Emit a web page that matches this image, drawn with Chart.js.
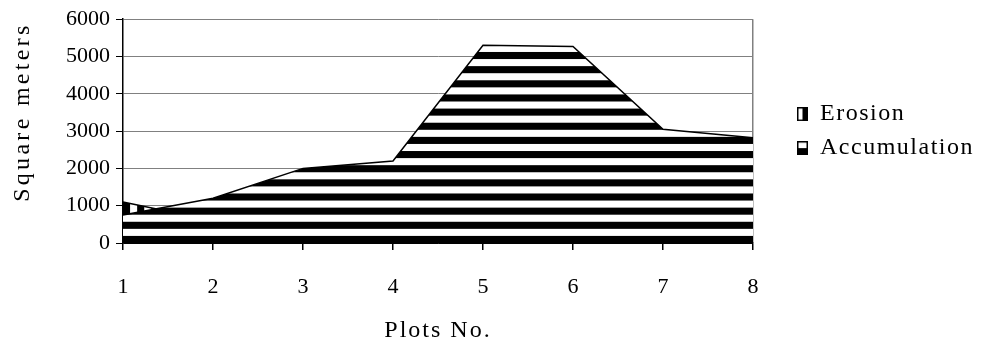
<!DOCTYPE html>
<html>
<head>
<meta charset="utf-8">
<script src="https://cdn.jsdelivr.net/npm/chart.js@4.4.1/dist/chart.umd.min.js"></script>
<style>
  html, body { margin: 0; padding: 0; background: #fff; }
  #wrap { width: 981px; height: 345px; }
</style>
</head>
<body>
<div id="wrap"><canvas id="c"></canvas></div>
<script>
// Plot numbers along the x axis
const plots = ['1', '2', '3', '4', '5', '6', '7', '8'];
// Areas per plot, square meters
const erosion = [1100, 600, 900, 1000, 1600, 1500, 1200, 1000];
const accumulation = [750, 1200, 2000, 2200, 5300, 5270, 3050, 2820];
// Value axis
const yMin = 0;
const yMax = 6000;
const yStep = 1000;
const seriesNames = ['Erosion', 'Accumulation'];
const xTitle = 'Plots No.';
const yTitle = 'Square meters';

const SERIF = '"Liberation Serif", "Times New Roman", serif';
const STRIPE = 14.15;          // stripe period of the hatch fills, px

// Hatch fills, anchored to the plot area so the stripes line up with the axes
const patternCache = {};
function hatch(chart, vertical) {
  const a = chart.chartArea;
  if (!a) return '#000';
  const key = (vertical ? 'v' : 'h') + a.left + ':' + a.bottom + ':' + chart.width + 'x' + chart.height;
  if (patternCache[key]) return patternCache[key];
  const c = document.createElement('canvas');
  c.width = chart.width;
  c.height = chart.height;
  const g = c.getContext('2d');
  g.fillStyle = '#fff';
  g.fillRect(0, 0, c.width, c.height);
  g.fillStyle = '#000';
  if (vertical) {
    for (let x = a.left; x < c.width; x += STRIPE) g.fillRect(x, 0, STRIPE / 2, c.height);
  } else {
    for (let y = a.bottom; y > 0; y -= STRIPE) g.fillRect(0, y - STRIPE / 2, c.width, STRIPE / 2);
  }
  const p = chart.ctx.createPattern(c, 'no-repeat');
  patternCache[key] = p;
  return p;
}

// Small legend swatches: half white, half black, with a black frame
function swatch(vertical) {
  const w = 11, h = 14;
  const c = document.createElement('canvas');
  c.width = w; c.height = h;
  const g = c.getContext('2d');
  g.fillStyle = '#fff';
  g.fillRect(0, 0, w, h);
  g.fillStyle = '#000';
  if (vertical) g.fillRect(w / 2, 0, w / 2, h);
  else g.fillRect(0, h / 2, w, h / 2);
  g.strokeStyle = '#000';
  g.lineWidth = 1.5;
  g.strokeRect(0.75, 0.75, w - 1.5, h - 1.5);
  return c;
}
const swatches = [swatch(true), swatch(false)];

// Plot-area geometry
const AREA_LEFT = 123;
const AREA_RIGHT = 753;
const LEGEND_DX = 34;
const LEGEND_DY = 0;

// Letter spacing for titles and legend text, and fixed box sizes
const layoutTweaks = {
  id: 'layoutTweaks',
  beforeLayout(chart) {
    const lg = chart.legend;
    if (lg && !lg._fixedWidth) {
      const fit = lg.fit.bind(lg);
      lg.fit = function () { fit(); this.width = chart.width - AREA_RIGHT; };
      const draw = lg.draw.bind(lg);
      lg.draw = function () {
        const ctx = this.ctx;
        ctx.save();
        ctx.translate(LEGEND_DX, LEGEND_DY);
        ctx.letterSpacing = '1.5px';
        draw();
        ctx.restore();
      };
      lg._fixedWidth = true;
    }
  },
  beforeDraw(chart) {
    const spacing = { x: '2px', y: '3.3px' };
    const shift = { x: [0, 2], y: [0, -19] };
    for (const id of ['x', 'y']) {
      const s = chart.scales[id];
      if (s && !s._spaced) {
        const dt = s.drawTitle.bind(s);
        s.drawTitle = function () {
          const ctx = this.ctx;
          ctx.save();
          ctx.translate(shift[id][0], shift[id][1]);
          ctx.letterSpacing = spacing[id];
          dt();
          ctx.restore();
        };
        s._spaced = true;
      }
    }
  }
};

new Chart(document.getElementById('c'), {
  type: 'line',
  data: {
    labels: plots,
    datasets: [
      {
        label: seriesNames[0],
        data: erosion,
        order: 2,
        fill: 'origin',
        backgroundColor: (ctx) => hatch(ctx.chart, true),
        borderColor: '#000',
        borderWidth: 1.5,
        pointRadius: 0,
        tension: 0,
        pointStyle: swatches[0]
      },
      {
        label: seriesNames[1],
        data: accumulation,
        order: 1,
        fill: 'origin',
        backgroundColor: (ctx) => hatch(ctx.chart, false),
        borderColor: '#000',
        borderWidth: 1.5,
        pointRadius: 0,
        tension: 0,
        pointStyle: swatches[1]
      }
    ]
  },
  options: {
    responsive: true,
    maintainAspectRatio: false,
    animation: false,
    events: [],
    layout: { padding: { left: 0, right: 0, top: 17, bottom: 0 } },
    scales: {
      x: {
        type: 'category',
        offset: false,
        grid: {
          color: (c) => (c.index === plots.length - 1 ? '#808080' : 'rgba(0,0,0,0)'),
          tickColor: '#000',
          tickLength: 7,
          lineWidth: 1.5
        },
        border: { color: '#000', width: 1.5 },
        ticks: {
          color: '#000',
          font: { family: SERIF, size: 22 },
          padding: 24,
          maxRotation: 0,
          autoSkip: false
        },
        title: {
          display: true,
          text: xTitle,
          color: '#000',
          font: { family: SERIF, size: 24 },
          padding: { top: 4, bottom: 2 }
        },
        afterFit(scale) { scale.height = 345 - 243; }
      },
      y: {
        min: yMin,
        max: yMax,
        grid: {
          color: (c) => (c.tick && c.tick.value === 0 ? '#000' : '#808080'),
          tickColor: '#000',
          tickLength: 7,
          lineWidth: 1
        },
        border: { color: '#000', width: 1.5 },
        ticks: {
          stepSize: yStep,
          color: '#000',
          font: { family: SERIF, size: 22 },
          padding: 6,
          callback: (v) => String(v)
        },
        title: {
          display: true,
          text: yTitle,
          color: '#000',
          font: { family: SERIF, size: 24 },
          padding: { top: 8, bottom: 0 }
        },
        afterFit(scale) { scale.width = AREA_LEFT; }
      }
    },
    plugins: {
      legend: {
        position: 'right',
        fullSize: false,
        labels: {
          usePointStyle: true,
          boxWidth: 11,
          boxHeight: 14,
          padding: 10,
          color: '#000',
          font: { family: SERIF, size: 24 },
          sort: (a, b) => a.datasetIndex - b.datasetIndex
        }
      },
      tooltip: { enabled: false }
    }
  },
  plugins: [layoutTweaks]
});
</script>
</body>
</html>
